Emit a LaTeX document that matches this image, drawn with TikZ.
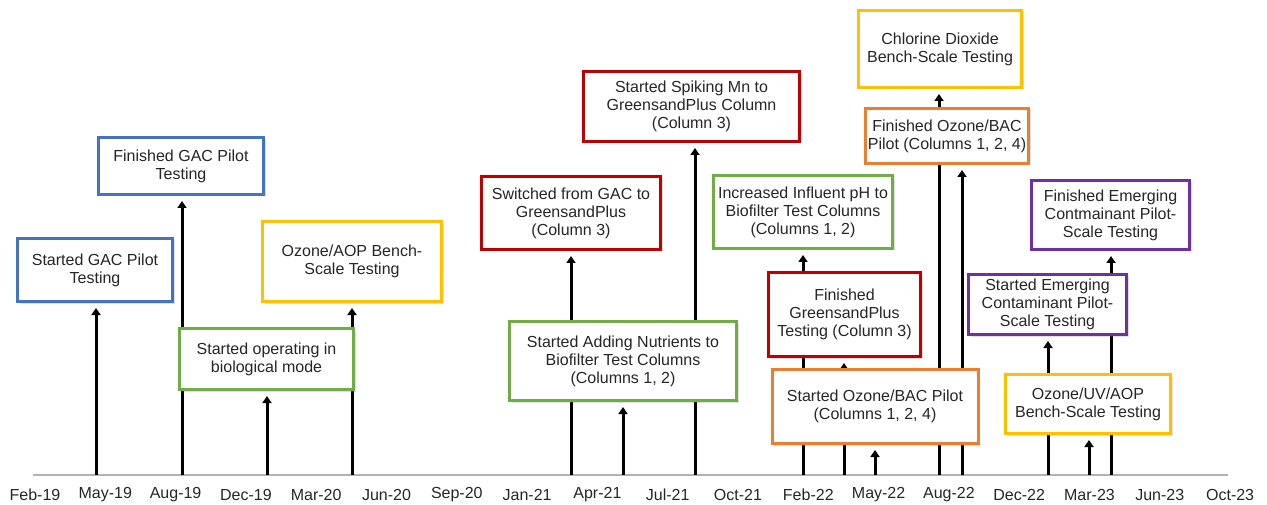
\documentclass[tikz,border=0pt]{standalone}
\usepackage{fontspec}
\setmainfont{Liberation Sans}
\usetikzlibrary{arrows.meta,shadows,backgrounds}
\definecolor{gacblue}{HTML}{4472C4}
\definecolor{gsred}{HTML}{C00000}
\definecolor{benchyellow}{HTML}{FFC000}
\definecolor{biogreen}{HTML}{70AD47}
\definecolor{ozorange}{HTML}{ED7D31}
\definecolor{ecpurple}{HTML}{7030A0}
\begin{document}
\begin{tikzpicture}[x = 1pt, y = -1pt,
  event/.style = {draw = #1, line width = 3pt, fill = white, align = center,
    inner sep = 0pt, text = black!85, font = \fontsize{16}{18}\selectfont,
    drop shadow = {opacity = 0.25, shadow xshift = 2pt, shadow yshift = -2pt}},
  rise/.style = {-{Triangle[length = 7pt, width = 9pt]}, line width = 3pt, shorten > = 5pt},
  month/.style = {text = black!85, font = \fontsize{16}{18}\selectfont}]
\useasboundingbox (0, 0) rectangle (1267, 505);

% boxes
\node[event = gacblue, minimum width = 155, minimum height = 63] (startgac) at (95, 270) {Started GAC Pilot\\Testing};
\node[event = gacblue, minimum width = 165, minimum height = 57] (fingac) at (181, 166) {Finished GAC Pilot\\Testing};
\node[event = biogreen, minimum width = 174, minimum height = 61] (biomode) at (266.5, 359) {Started operating in\\biological mode};
\node[event = benchyellow, minimum width = 179, minimum height = 80] (ozaop) at (352, 261.5) {Ozone/AOP Bench-\\Scale Testing};
\node[event = gsred, minimum width = 179, minimum height = 73] (switched) at (571, 213) {Switched from GAC to\\GreensandPlus\\(Column 3)};
\node[event = biogreen, minimum width = 227, minimum height = 79] (nutrients) at (623, 361) {Started Adding Nutrients to\\Biofilter Test Columns\\(Columns 1, 2)};
\node[event = gsred, minimum width = 216, minimum height = 70] (spiking) at (691.5, 106.5) {Started Spiking Mn to\\GreensandPlus Column\\(Column 3)};
\node[event = biogreen, minimum width = 179, minimum height = 73] (raiseph) at (803, 212) {Increased Influent pH to\\Biofilter Test Columns\\(Columns 1, 2)};
\node[event = gsred, minimum width = 152, minimum height = 84] (fingreen) at (844.5, 314.5) {Finished\\GreensandPlus\\Testing (Column 3)};
\node[event = ozorange, minimum width = 206, minimum height = 74] (startoz) at (875, 406.5) {Started Ozone/BAC Pilot\\(Columns 1, 2, 4)};
\node[event = benchyellow, minimum width = 163, minimum height = 77] (chlorine) at (940, 49) {Chlorine Dioxide\\Bench-Scale Testing};
\node[event = ozorange, minimum width = 163, minimum height = 55] (finoz) at (947, 136) {Finished Ozone/BAC\\Pilot (Columns 1, 2, 4)};
\node[event = ecpurple, minimum width = 158, minimum height = 60] (startec) at (1047.5, 304.5) {Started Emerging\\Contaminant Pilot-\\Scale Testing};
\node[event = benchyellow, minimum width = 165, minimum height = 59] (ozuv) at (1088, 404) {Ozone/UV/AOP\\Bench-Scale Testing};
\node[event = ecpurple, minimum width = 158, minimum height = 69] (finec) at (1110.5, 215) {Finished Emerging\\Contmainant Pilot-\\Scale Testing};

% time axis
\foreach \lbl [count = \i from 0] in {Feb-19, May-19, Aug-19, Dec-19, Mar-20, Jun-20, Sep-20, Jan-21, Apr-21, Jul-21, Oct-21, Feb-22, May-22, Aug-22, Dec-22, Mar-23, Jun-23, Oct-23}
  \node[month] (m\i) at ({35 + 70.3 * \i}, 495) {\lbl};
\coordinate (axisleft) at (33, 475);
\coordinate (axisright) at (1228, 475);
\foreach \x [count = \k] in {96, 182, 267, 352, 571, 623, 695, 803, 844, 875, 939, 962, 1048, 1089, 1111}
  \coordinate (t\k) at (\x, 475);

\begin{pgfonlayer}{background}
\draw[black!30, line width = 1.5pt] (axisleft) -- (axisright);
\draw[rise] (t1) -- (t1 |- startgac.south);
\draw[rise] (t2) -- (t2 |- fingac.south);
\draw[rise] (t3) -- (t3 |- biomode.south);
\draw[rise] (t4) -- (t4 |- ozaop.south);
\draw[rise] (t5) -- (t5 |- switched.south);
\draw[rise] (t6) -- (t6 |- nutrients.south);
\draw[rise] (t7) -- (t7 |- spiking.south);
\draw[rise] (t8) -- (t8 |- raiseph.south);
\draw[rise] (t9) -- (t9 |- fingreen.south);
\draw[rise] (t10) -- (t10 |- startoz.south);
\draw[rise] (t11) -- (t11 |- chlorine.south);
\draw[rise] (t12) -- (t12 |- finoz.south);
\draw[rise] (t13) -- (t13 |- startec.south);
\draw[rise] (t14) -- (t14 |- ozuv.south);
\draw[rise] (t15) -- (t15 |- finec.south);
\end{pgfonlayer}
\end{tikzpicture}
\end{document}
